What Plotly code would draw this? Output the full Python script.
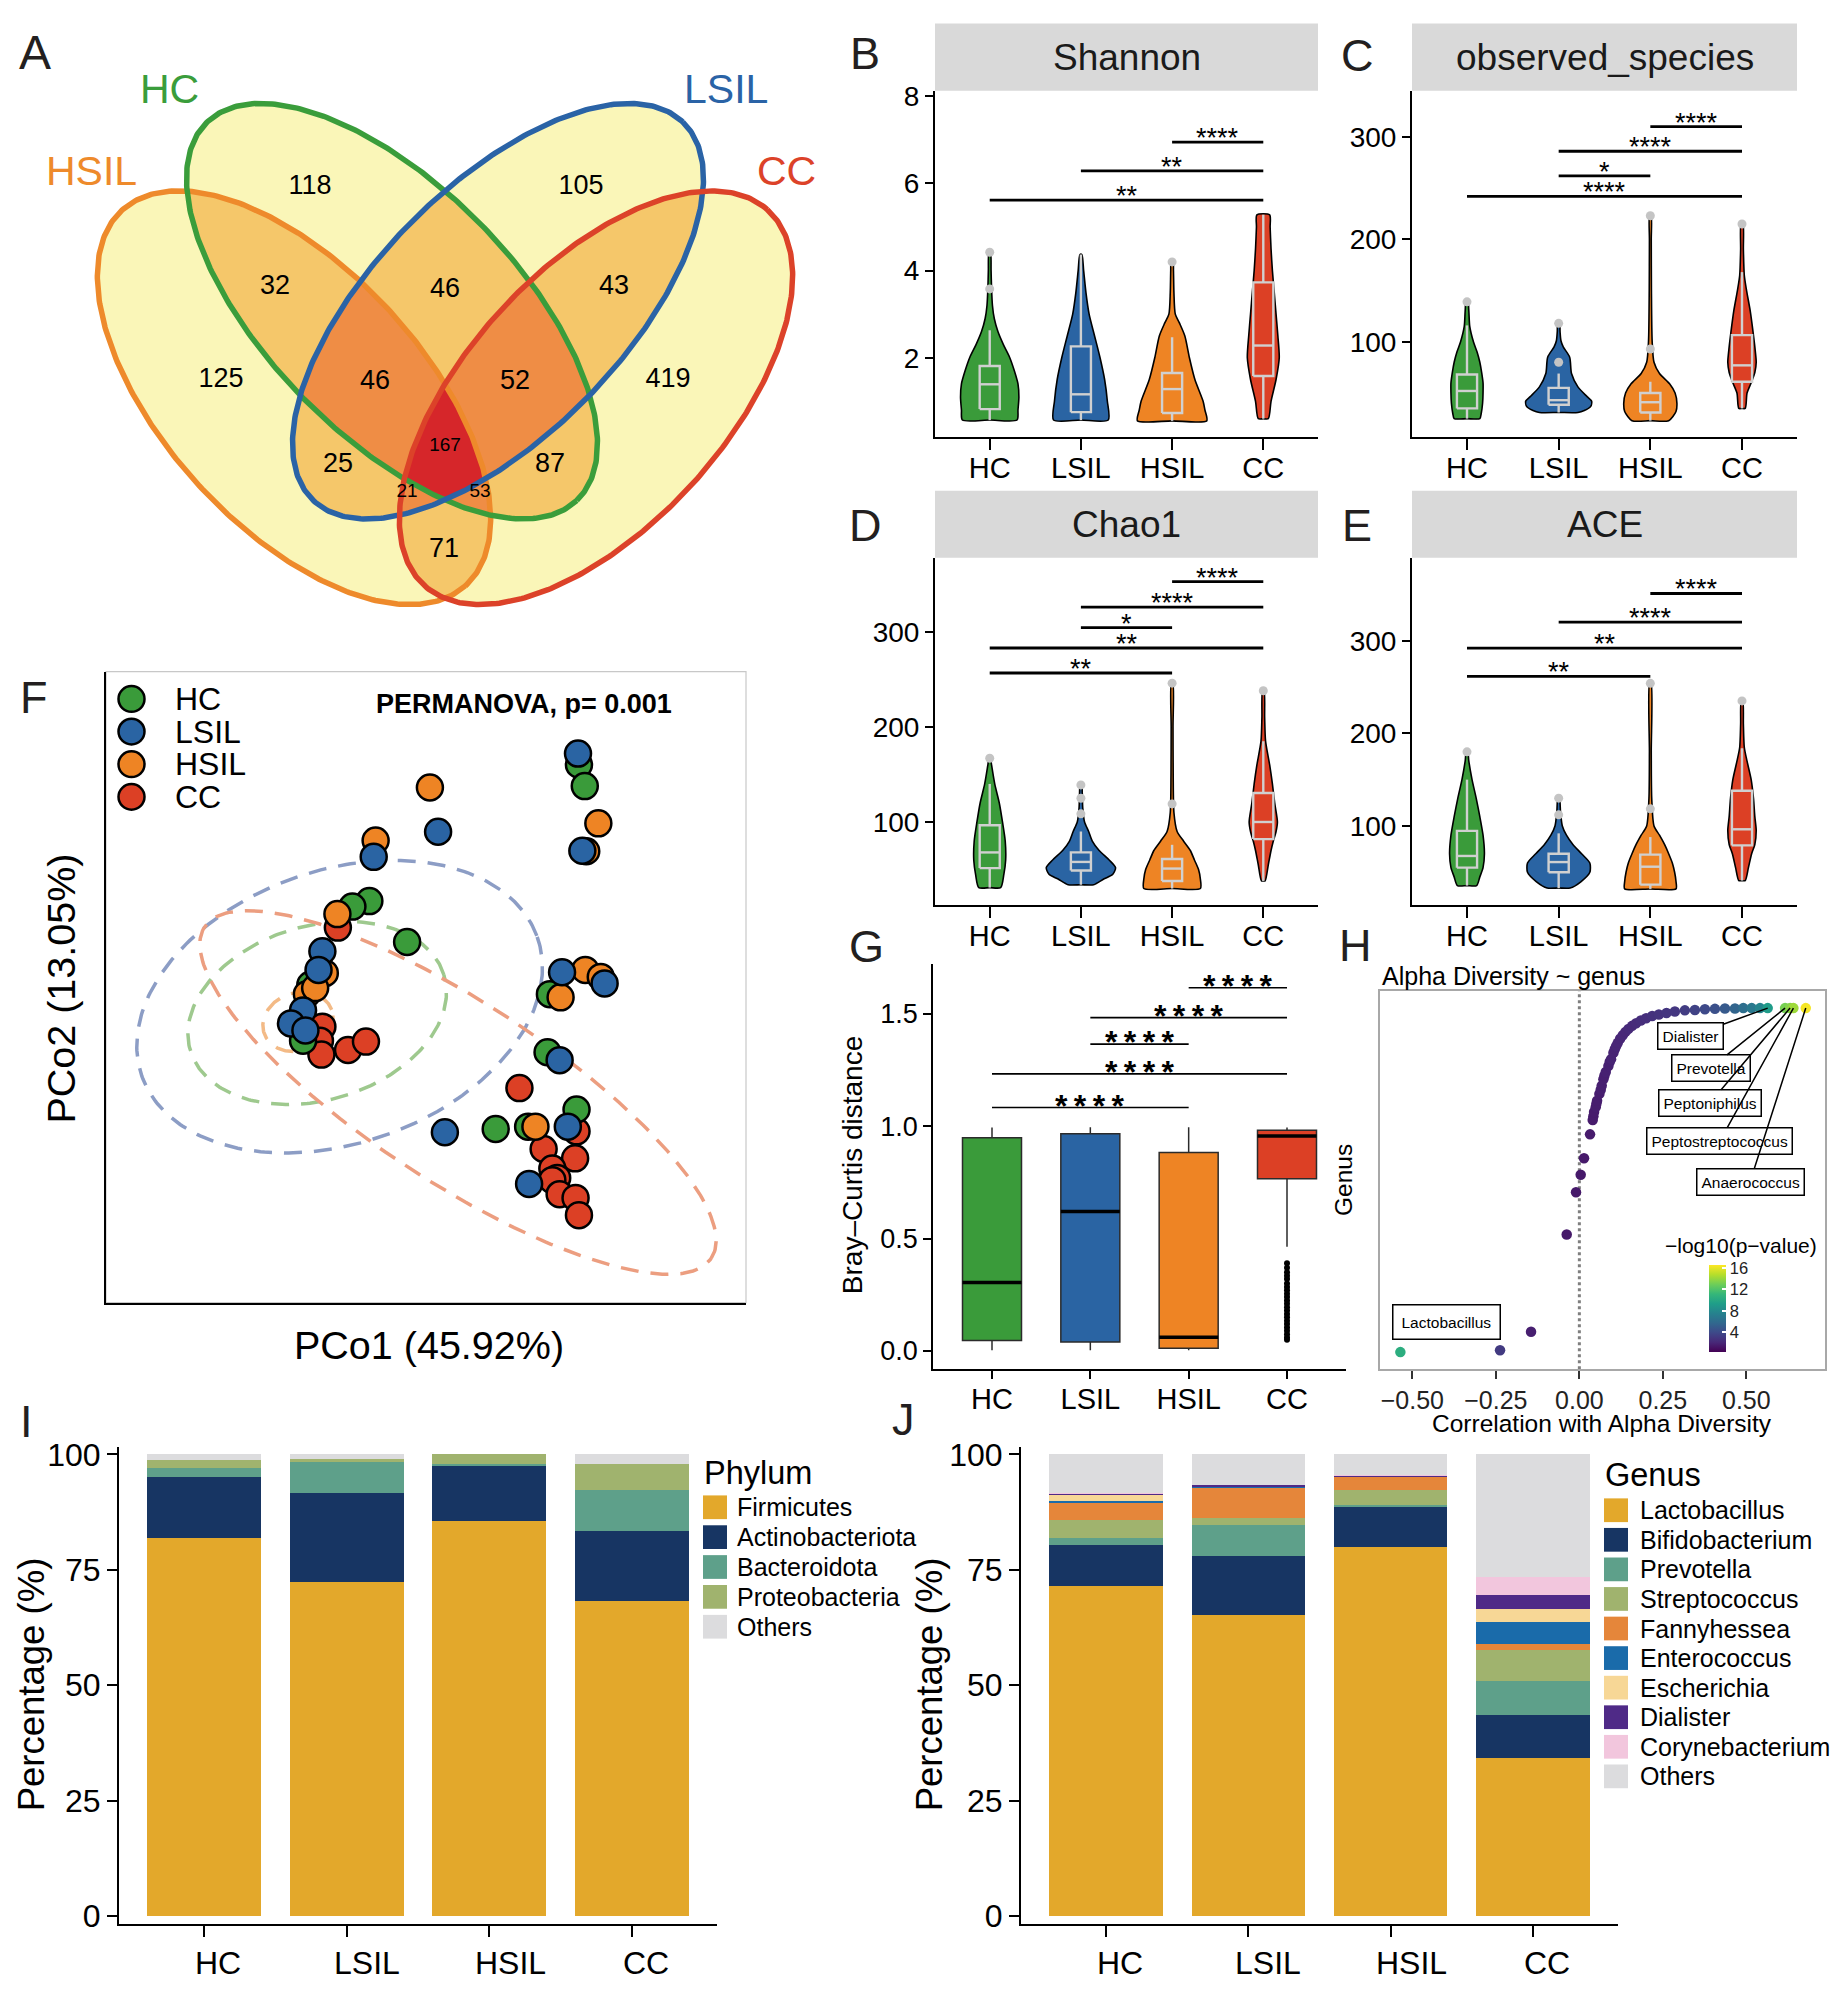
import numpy as np
import plotly.graph_objects as go

# page geometry (browser body keeps its default 8px margin)
PAGE_W, PAGE_H = 1838, 1996
OX, OY = 8, 8
FW, FH = PAGE_W - 2 * OX, PAGE_H - 2 * OY
FONT = "Liberation Sans, Arial, Helvetica, sans-serif"

groups = ["HC", "LSIL", "HSIL", "CC"]
group_colors = ["#3A9B3A", "#2A64A3", "#EE8424", "#DC4025"]

# ---------------- A: Venn ----------------
venn_sets = ["HSIL", "HC", "LSIL", "CC"]
venn_counts = [118, 105, 32, 46, 43, 125, 46, 52, 419, 167, 25, 87, 21, 53, 71]
venn_small = [0, 0, 0, 0, 0, 0, 0, 0, 0, 1, 0, 0, 1, 1, 0]
venn_count_x = [310, 581, 275, 445, 614, 221, 375, 515, 668, 445, 338, 550, 407, 480, 444]
venn_count_y = [178, 178, 279, 282, 279, 373, 375, 375, 373, 440, 459, 459, 487, 487, 545]
venn_ellipses = [(294, 391, 256, 130, 48), (392, 303.5, 266, 125, 46),
                 (498, 303.5, 266, 125, -46), (596, 391, 256, 130, -48)]
venn_line_colors = ["#EE8A2B", "#3A9D3B", "#2A63A6", "#DC4229"]
venn_label_pos = [(91.5, 162), (169.5, 79), (726, 79), (786.6, 162)]
venn_fill = ["#FAF6B8", "#F5C76A", "#EF8D45", "#D6262A"]

# ---------------- B-E: violins ----------------
shannon_levels = [
    [0.57, 0.8, 1.1, 1.4, 1.7, 2.0, 2.3, 2.6, 2.9, 3.2, 3.6, 4.0, 4.42],
    [0.57, 1.0, 1.5, 2.0, 2.5, 3.0, 3.5, 4.0, 4.37],
    [0.55, 0.8, 1.0, 1.5, 2.0, 2.5, 2.8, 3.0, 3.5, 4.0, 4.22],
    [0.6, 1.0, 1.5, 2.0, 2.5, 3.0, 3.5, 4.0, 4.5, 5.0, 5.28]]
shannon_width = [
    [0.30, 0.31, 0.32, 0.31, 0.27, 0.22, 0.15, 0.09, 0.05, 0.03, 0.02, 0.015, 0.008],
    [0.30, 0.29, 0.26, 0.21, 0.15, 0.09, 0.055, 0.03, 0.01],
    [0.38, 0.36, 0.34, 0.25, 0.19, 0.14, 0.08, 0.035, 0.02, 0.015, 0.01],
    [0.055, 0.085, 0.14, 0.175, 0.16, 0.14, 0.12, 0.10, 0.085, 0.075, 0.07]]
shannon_box = [[0.57, 0.82, 1.39, 1.81, 2.63], [0.57, 0.75, 1.16, 2.26, 4.37],
               [0.55, 0.73, 1.28, 1.65, 2.47], [0.6, 1.58, 2.28, 3.73, 5.28]]
shannon_out = [[3.58, 4.42], [], [4.2], []]
shannon_sig = [(3, 4, 6.95, "****"), (2, 4, 6.29, "**"), (1, 4, 5.62, "**")]

obs_levels = [
    [25, 30, 40, 50, 60, 70, 80, 90, 100, 115, 130, 139],
    [31, 33, 37, 42, 46.5, 56, 69, 85, 95, 101, 110, 118],
    [23, 32, 40, 50, 59, 69, 80, 100, 150, 200, 223],
    [35, 50, 60, 70, 80, 95, 110, 130, 150, 165, 190, 215]]
obs_width = [
    [0.14, 0.155, 0.17, 0.175, 0.175, 0.16, 0.14, 0.11, 0.07, 0.03, 0.02, 0.01],
    [0.21, 0.28, 0.35, 0.36, 0.31, 0.21, 0.14, 0.12, 0.05, 0.025, 0.015, 0.01],
    [0.20, 0.28, 0.29, 0.27, 0.21, 0.10, 0.04, 0.02, 0.012, 0.01, 0.008],
    [0.035, 0.055, 0.10, 0.14, 0.155, 0.14, 0.12, 0.09, 0.05, 0.025, 0.015, 0.01]]
obs_box = [[25, 35, 52, 68, 116], [31, 38.5, 43, 55, 69], [23, 31, 41, 50, 61], [35, 61, 77, 106.5, 168]]
obs_out = [[139], [80, 118], [93, 223], [215]]
obs_sig = [(3, 4, 310, "****"), (2, 4, 286, "****"), (2, 3, 262, "*"), (1, 4, 242, "****")]

chao_levels = [
    [31, 45, 60, 80, 100, 120, 140, 160, 167],
    [34, 40, 45, 52, 60, 70, 80, 90, 100, 115, 130, 139],
    [30, 40, 50, 60, 70, 80, 90, 110, 150, 200, 246],
    [38, 55, 70, 80, 90, 100, 120, 140, 160, 185, 210, 238]]
chao_width = [
    [0.12, 0.155, 0.175, 0.17, 0.14, 0.105, 0.055, 0.02, 0.008],
    [0.14, 0.25, 0.35, 0.38, 0.31, 0.2, 0.125, 0.085, 0.04, 0.02, 0.015, 0.008],
    [0.31, 0.31, 0.29, 0.245, 0.2, 0.125, 0.055, 0.02, 0.012, 0.01, 0.008],
    [0.02, 0.055, 0.085, 0.11, 0.14, 0.155, 0.125, 0.10, 0.07, 0.025, 0.015, 0.008]]
chao_box = [[31, 51.5, 68, 96.5, 140], [34, 49, 58, 68, 90], [30, 38, 51, 61, 76], [38, 82, 100, 130.5, 185]]
chao_out = [[167], [108.6, 125, 139], [119, 246], [238]]
chao_sig = [(3, 4, 352.7, "****"), (2, 4, 326, "****"), (2, 3, 304.5, "*"),
            (1, 4, 283, "**"), (1, 3, 256.7, "**")]

ace_levels = [
    [35.6, 45, 55, 70, 90, 110, 130, 150, 170, 180],
    [33, 40, 50, 60, 70, 80, 90, 100, 115, 130],
    [32, 40, 50, 60, 70, 80, 90, 100, 130, 180, 254],
    [41, 55, 70, 80, 95, 110, 130, 150, 170, 185, 210, 235]]
ace_width = [
    [0.105, 0.14, 0.175, 0.19, 0.175, 0.14, 0.10, 0.055, 0.02, 0.008],
    [0.125, 0.245, 0.34, 0.34, 0.25, 0.155, 0.085, 0.04, 0.02, 0.008],
    [0.28, 0.28, 0.265, 0.24, 0.2, 0.155, 0.1, 0.04, 0.015, 0.01, 0.008],
    [0.035, 0.07, 0.105, 0.14, 0.155, 0.14, 0.125, 0.10, 0.055, 0.025, 0.015, 0.008]]
ace_box = [[35.6, 55, 67.6, 94.7, 150], [33, 50, 61, 70, 92], [32, 36.6, 56, 69, 88], [41, 79, 96.4, 138, 184]]
ace_out = [[180], [112, 130], [118.5, 254], [235]]
ace_sig = [(3, 4, 351, "****"), (2, 4, 320, "****"), (1, 4, 292, "**"), (1, 3, 261.6, "**")]

# ---------------- F: PCoA ----------------
pcoa_hc_x = [73.90, 74.81, 41.15, 38.50, 47.05, 31.92, 30.79, 69.36, 68.99, 60.89, 73.52, 65.96]
pcoa_hc_y = [85.25, 81.86, 63.64, 62.76, 57.15, 50.37, 41.52, 48.89, 39.68, 27.51, 30.60, 27.88]
pcoa_lsil_x = [73.75, 74.43, 51.89, 41.83, 33.81, 33.21, 30.79, 28.90, 31.16, 71.26, 77.91, 70.88, 52.95, 72.16, 66.11]
pcoa_lsil_y = [87.02, 71.61, 74.63, 70.65, 55.68, 52.73, 46.31, 44.25, 43.14, 52.36, 50.59, 38.42, 26.99, 27.88, 18.81]
pcoa_hsil_x = [50.61, 76.93, 75.04, 42.13, 36.16, 34.19, 31.39, 32.68, 74.89, 77.31, 71.03, 67.10]
pcoa_hsil_y = [81.64, 75.96, 71.53, 73.23, 61.58, 52.21, 48.89, 49.85, 52.73, 51.62, 48.38, 27.88]
pcoa_cc_x = [36.23, 33.81, 33.43, 33.66, 37.82, 40.62, 64.60, 73.52, 68.38, 73.30, 69.74, 70.50, 69.74, 70.88, 73.37, 73.90]
pcoa_cc_y = [59.44, 43.73, 41.52, 39.31, 40.04, 41.37, 34.00, 27.14, 24.34, 22.86, 21.24, 19.76, 19.40, 17.18, 16.59, 13.86]
pcoa_ellipses = [(33.0, 45.9, 20.7, 13.8, 17), (36.5, 46.9, 32.8, 21.6, 20),
                 (30.0, 44.5, 5.6, 4.6, 20), (55.0, 33.3, 47.5, 14.2, -33.6)]
pcoa_ellipse_colors = ["#9EC98E", "#8C9DC5", "#F3BA86", "#EC9E80"]

# ---------------- G: Bray-Curtis ----------------
bc_box = [[0.004, 0.047, 0.305, 0.949, 0.994], [0.004, 0.040, 0.621, 0.966, 0.995],
          [0.004, 0.012, 0.061, 0.883, 0.995], [0.464, 0.766, 0.956, 0.982, 0.994]]
bc_cc_outliers = [0.39, 0.37, 0.35, 0.335, 0.32, 0.30, 0.285, 0.27, 0.255, 0.24, 0.225, 0.21,
                  0.195, 0.18, 0.165, 0.15, 0.135, 0.12, 0.105, 0.09, 0.075, 0.06, 0.05]
bc_sig = [(3, 4, 1.616), (2, 4, 1.483), (2, 3, 1.365), (1, 4, 1.233), (1, 3, 1.083)]

# ---------------- H: correlation ----------------
h_corr = [-0.536, -0.2375, -0.1447, -0.0379, -0.010, 0.004, 0.014, 0.032,
          0.040, 0.042, 0.044, 0.049, 0.051, 0.053, 0.060, 0.064, 0.067, 0.072, 0.075, 0.079,
          0.087, 0.091, 0.095, 0.102, 0.106, 0.110, 0.115, 0.122, 0.130, 0.138, 0.147,
          0.158, 0.170, 0.184, 0.200, 0.218, 0.238, 0.261, 0.286, 0.316, 0.346, 0.376, 0.406,
          0.436, 0.466, 0.491, 0.516, 0.541, 0.564, 0.616, 0.631, 0.641, 0.678]
h_rank = [4.5, 5.0, 9.9, 35.6, 46.8, 51.4, 55.8, 62.1,
          65.9, 66.9, 68.0, 69.3, 70.2, 71.0, 72.8, 73.9, 75.0, 76.7, 77.6, 78.6,
          80.2, 81.3, 82.0, 83.7, 84.6, 85.4, 86.3, 87.4, 88.3, 89.2, 90.0,
          90.8, 91.5, 92.2, 92.8, 93.4, 93.8, 94.2, 94.6, 94.9, 95.0, 95.2, 95.3,
          95.4, 95.4, 95.5, 95.5, 95.5, 95.5, 95.5, 95.5, 95.5, 95.5]
h_logp = [10.5, 3.2, 1.8, 1.5, 1.5, 1.5, 1.5, 1.6,
          1.6, 1.6, 1.6, 1.7, 1.7, 1.7, 1.7, 1.8, 1.8, 1.8, 1.8, 1.9,
          1.9, 1.9, 2.0, 2.0, 2.0, 2.1, 2.1, 2.1, 2.2, 2.2, 2.3,
          2.3, 2.4, 2.5, 2.6, 2.7, 2.8, 2.9, 3.0, 3.3, 3.6, 4.0, 4.4,
          5.0, 5.6, 6.3, 7.0, 7.8, 9.3, 13.2, 13.6, 14.2, 16.4]
h_label_names = ["Dialister", "Prevotella", "Peptoniphilus", "Peptostreptococcus", "Anaerococcus", "Lactobacillus"]
h_label_point = [48, 49, 50, 51, 52, 0]
h_label_x = [0.333, 0.393, 0.391, 0.421, 0.511, -0.397]
h_label_y = [88.1, 79.6, 70.4, 60.4, 49.5, 12.5]

# ---------------- I / J: composition ----------------
phylum_names = ["Firmicutes", "Actinobacteriota", "Bacteroidota", "Proteobacteria", "Others"]
phylum_values = [[81.9, 72.4, 85.5, 68.3], [13.1, 19.3, 12.0, 15.0], [1.95, 6.7, 0.4, 9.0],
                 [1.8, 0.6, 2.1, 5.7], [1.25, 1.0, 0.0, 2.0]]
phylum_colors = ["#E3A82B", "#173563", "#5EA08A", "#A0B36E", "#DCDCDE"]
genus_names = ["Lactobacillus", "Bifidobacterium", "Prevotella", "Streptococcus", "Fannyhessea",
               "Enterococcus", "Escherichia", "Dialister", "Corynebacterium", "Others"]
genus_values = [[71.5, 65.3, 80.0, 34.3], [8.8, 12.6, 8.7, 9.2], [1.6, 6.8, 0.3, 7.5],
                [3.9, 1.5, 3.2, 6.7], [3.7, 6.6, 2.9, 1.2], [0.5, 0.1, 0.0, 4.9],
                [1.2, 0.1, 0.0, 2.7], [0.3, 0.4, 0.2, 3.1], [0.1, 0.0, 0.2, 3.8],
                [8.4, 6.6, 4.5, 26.6]]
genus_colors = ["#E3A82B", "#173563", "#5EA08A", "#A0B36E", "#E5863A", "#1A6BAA",
                "#F7D796", "#4F2A87", "#F2C6DD", "#DCDCDE"]

# =====================================================================
fig = go.Figure()
layout_axes = {}
annotations = []
shapes = []


def fx(px):
    return (px - OX) / FW


def fy(py):
    return 1 - (py - OY) / FH


def names(i):
    if i == 1:
        return "xaxis", "yaxis", "x", "y"
    return f"xaxis{i}", f"yaxis{i}", f"x{i}", f"y{i}"


def set_axes(i, xpx, ypx, xrange, yrange, xopts=None, yopts=None):
    xa, ya, xr, yr = names(i)
    hidden = dict(showgrid=False, zeroline=False, showticklabels=False, ticks="",
                  showline=False, fixedrange=True)
    xd = dict(hidden, domain=[max(0, fx(xpx[0])), min(1, fx(xpx[1]))], range=xrange, anchor=yr)
    yd = dict(hidden, domain=[max(0, fy(ypx[1])), min(1, fy(ypx[0]))], range=yrange, anchor=xr)
    if xopts:
        xd.update(xopts)
    if yopts:
        yd.update(yopts)
    layout_axes[xa] = xd
    layout_axes[ya] = yd


def classic(tickvals, ticktext, fs, ticklen=10, lw=2, standoff=0, labels=True):
    return dict(showline=True, linecolor="black", linewidth=lw, ticks="outside",
                ticklen=ticklen, tickwidth=lw, tickcolor="black", showticklabels=labels,
                tickvals=tickvals, ticktext=ticktext, ticklabelstandoff=standoff,
                tickfont=dict(size=fs, color="black", family=FONT))


def ptext(text, px, py, size, xanchor="center", yanchor="middle", color="black", angle=0, **kw):
    annotations.append(dict(text=text, x=fx(px), y=fy(py), xref="paper", yref="paper",
                            xanchor=xanchor, yanchor=yanchor, showarrow=False, textangle=angle,
                            font=dict(size=size, color=color, family=FONT), **kw))


def prect(x0, y0, x1, y1, fill, line_color=None, lw=0, layer="above"):
    shapes.append(dict(type="rect", xref="paper", yref="paper", x0=fx(x0), x1=fx(x1),
                       y0=fy(y1), y1=fy(y0), fillcolor=fill, layer=layer,
                       line=dict(color=line_color or fill, width=lw)))


# ---------------- A: Venn ----------------
set_axes(1, (OX, 840), (OY, 620), [OX, 840], [620, OY])
gx = np.arange(60, 802, 2.0)
gy = np.arange(84, 616, 2.0)
GX, GY = np.meshgrid(gx, gy)
count = np.zeros_like(GX)
for (cx, cy, a, b, th) in venn_ellipses:
    t = np.radians(th)
    dx, dy = GX - cx, GY - cy
    u = dx * np.cos(t) + dy * np.sin(t)
    v = -dx * np.sin(t) + dy * np.cos(t)
    count += ((u / a) ** 2 + (v / b) ** 2 <= 1).astype(float)
count[count == 0] = np.nan
cs = []
for k, c in enumerate(venn_fill):
    cs += [[k / 4, c], [(k + 1) / 4, c]]
fig.add_trace(go.Heatmap(x=gx, y=gy, z=count, zmin=0.5, zmax=4.5, colorscale=cs,
                         showscale=False, hoverinfo="skip", zsmooth=False, xaxis="x", yaxis="y"))
s = np.linspace(0, 2 * np.pi, 400)
for (cx, cy, a, b, th), col in zip(venn_ellipses, venn_line_colors):
    t = np.radians(th)
    ex = cx + a * np.cos(s) * np.cos(t) - b * np.sin(s) * np.sin(t)
    ey = cy + a * np.cos(s) * np.sin(t) + b * np.sin(s) * np.cos(t)
    fig.add_trace(go.Scatter(x=ex, y=ey, mode="lines", line=dict(color=col, width=5.5),
                             hoverinfo="skip", showlegend=False, xaxis="x", yaxis="y"))
fig.add_trace(go.Scatter(x=venn_count_x, y=venn_count_y, mode="text",
                         text=[str(c) for c in venn_counts],
                         textfont=dict(size=[19 if sm else 27 for sm in venn_small],
                                       color="black", family=FONT),
                         hoverinfo="skip", showlegend=False, xaxis="x", yaxis="y"))
for name, (lx, ly), col in zip(venn_sets, venn_label_pos, venn_line_colors):
    ptext(name, lx, ly, 41, color=col)

# ---------------- B-E violins ----------------
violin_panels = [
    (2, (935, 1318), (80.5, 430.7), [0.18, 8.13], [2, 4, 6, 8], shannon_levels, shannon_width,
     shannon_box, shannon_out, shannon_sig, "Shannon", (12.5, 80.5)),
    (3, (1412, 1797), (80.5, 430.7), [7.06, 345.1], [100, 200, 300], obs_levels, obs_width,
     obs_box, obs_out, obs_sig, "observed_species", (12.5, 80.5)),
    (4, (935, 1318), (552.7, 904), [12.65, 378], [100, 200, 300], chao_levels, chao_width,
     chao_box, chao_out, chao_sig, "Chao1", (485, 552.7)),
    (5, (1412, 1797), (552.7, 904), [14.6, 389.7], [100, 200, 300], ace_levels, ace_width,
     ace_box, ace_out, ace_sig, "ACE", (485, 552.7)),
]
BOXC = "#D0D0D0"
for (i, xpx, ypx, yr, yt, levels, widths, boxes, outs, sig, title, strip) in violin_panels:
    _, _, xr, yrr = names(i)
    set_axes(i, xpx, ypx, [0.4, 4.6], yr,
             classic([1, 2, 3, 4], groups, 29, ticklen=11, standoff=-7),
             classic(yt, [str(v) for v in yt], 28, ticklen=8))
    for g in range(4):
        pos = g + 1
        ys, ws = levels[g], widths[g]
        px_ = [pos] + [pos + w for w in ws] + [pos - w for w in ws[::-1]] + [pos]
        py_ = [ys[0]] + ys + ys[::-1] + [ys[0]]
        fig.add_trace(go.Scatter(x=px_, y=py_, mode="lines", fill="toself",
                                 fillcolor=group_colors[g],
                                 line=dict(color="black", width=1.6, shape="spline", smoothing=0.7),
                                 hoverinfo="skip", showlegend=False, xaxis=xr, yaxis=yrr))
        lf, q1, med, q3, uf = boxes[g]
        hw = 0.11
        bxs = [pos - hw, pos + hw, pos + hw, pos - hw, pos - hw, None,
               pos - hw, pos + hw, None, pos, pos, None, pos, pos]
        bys = [q1, q1, q3, q3, q1, None, med, med, None, q3, uf, None, lf, q1]
        fig.add_trace(go.Scatter(x=bxs, y=bys, mode="lines", line=dict(color=BOXC, width=2.4),
                                 hoverinfo="skip", showlegend=False, xaxis=xr, yaxis=yrr))
        if outs[g]:
            fig.add_trace(go.Scatter(x=[pos] * len(outs[g]), y=outs[g], mode="markers",
                                     marker=dict(color="#C4C4C4", size=9), hoverinfo="skip",
                                     showlegend=False, xaxis=xr, yaxis=yrr))
    bx, by = [], []
    for (a, b, h, lab) in sig:
        bx += [a, b, None]
        by += [h, h, None]
        annotations.append(dict(text=lab, x=(a + b) / 2, y=h, xref=xr, yref=yrr,
                                showarrow=False, yanchor="middle", yshift=4,
                                font=dict(size=27, color="black", family=FONT)))
    fig.add_trace(go.Scatter(x=bx, y=by, mode="lines", line=dict(color="black", width=2.8),
                             hoverinfo="skip", showlegend=False, xaxis=xr, yaxis=yrr))
    prect(xpx[0], strip[0], xpx[1], strip[1], "#D9D9D9", layer="below")
    ptext(title, (xpx[0] + xpx[1]) / 2, (strip[0] + strip[1]) / 2, 37, color="#1A1A1A")

# ---------------- F: PCoA ----------------
set_axes(6, (106, 746), (668, 1306), [0, 100], [0, 100],
         dict(showline=True, linecolor="black", linewidth=2),
         dict(showline=True, linecolor="black", linewidth=2))
prect(106, 668, 746, 1306, "rgba(0,0,0,0)", "#C8C8C8", 1.2, layer="below")
s = np.linspace(0, 2 * np.pi, 300)
for (cx, cy, a, b, th), col in zip(pcoa_ellipses, pcoa_ellipse_colors):
    t = np.radians(th)
    ex = cx + a * np.cos(s) * np.cos(t) - b * np.sin(s) * np.sin(t)
    ey = cy + a * np.cos(s) * np.sin(t) + b * np.sin(s) * np.cos(t)
    fig.add_trace(go.Scatter(x=ex, y=ey, mode="lines",
                             line=dict(color=col, width=3.5, dash="18px,12px"),
                             hoverinfo="skip", showlegend=False, xaxis="x6", yaxis="y6"))
for xs, ys, col in [(pcoa_cc_x, pcoa_cc_y, group_colors[3]), (pcoa_hc_x, pcoa_hc_y, group_colors[0]),
                    (pcoa_hsil_x, pcoa_hsil_y, group_colors[2]), (pcoa_lsil_x, pcoa_lsil_y, group_colors[1])]:
    fig.add_trace(go.Scatter(x=xs, y=ys, mode="markers",
                             marker=dict(color=col, size=26, line=dict(color="black", width=2.5)),
                             hoverinfo="skip", showlegend=False, xaxis="x6", yaxis="y6"))
for k, (g, col) in enumerate(zip(groups, group_colors)):
    cy = 695.6 + 33 * k
    shapes.append(dict(type="circle", xref="paper", yref="paper",
                       x0=fx(131.5 - 13), x1=fx(131.5 + 13),
                       y0=fy(cy + 13), y1=fy(cy - 13),
                       fillcolor=col, line=dict(color="black", width=2.5)))
    ptext(g, 173, cy, 32, xanchor="left")
ptext("<b>PERMANOVA, p= 0.001</b>", 523.5, 700.3, 27)
ptext("PCo1 (45.92%)", 428.6, 1348.8, 39.5)
ptext("PCo2 (13.05%)", 61, 988.5, 39.5, angle=-90)

# ---------------- G: Bray-Curtis boxplot ----------------
set_axes(7, (933, 1346), (963.3, 1373.3), [0.4, 4.6], [-0.0805, 1.723],
         classic([1, 2, 3, 4], groups, 29, ticklen=8, lw=1.8, standoff=-5),
         classic([0, 0.5, 1.0, 1.5], ["0.0", "0.5", "1.0", "1.5"], 27, ticklen=8, lw=1.8))
for g in range(4):
    pos = g + 1
    lf, q1, med, q3, uf = bc_box[g]
    fig.add_trace(go.Box(x=[pos], q1=[q1], median=[med], q3=[q3], lowerfence=[lf],
                         upperfence=[uf], orientation="v", width=0.6,
                         fillcolor=group_colors[g], line=dict(color="#2B2B2B", width=1.5),
                         whiskerwidth=0, boxpoints=False, hoverinfo="skip",
                         showlegend=False, xaxis="x7", yaxis="y7"))
    fig.add_trace(go.Scatter(x=[pos - 0.3, pos + 0.3], y=[med, med], mode="lines",
                             line=dict(color="black", width=3.5), hoverinfo="skip",
                             showlegend=False, xaxis="x7", yaxis="y7"))
fig.add_trace(go.Scatter(x=[4] * len(bc_cc_outliers), y=bc_cc_outliers, mode="markers",
                         marker=dict(color="black", size=6), hoverinfo="skip",
                         showlegend=False, xaxis="x7", yaxis="y7"))
bx, by = [], []
for (a, b, h) in bc_sig:
    bx += [a, b, None]
    by += [h, h, None]
    annotations.append(dict(text="<b>*\u2009*\u2009*\u2009*</b>", x=(a + b) / 2, y=h, xref="x7", yref="y7",
                            showarrow=False, yanchor="middle", yshift=2,
                            font=dict(size=32, color="black", family=FONT)))
fig.add_trace(go.Scatter(x=bx, y=by, mode="lines", line=dict(color="black", width=1.6),
                         hoverinfo="skip", showlegend=False, xaxis="x7", yaxis="y7"))
ptext("Bray\u2013Curtis distance", 853.3, 1166.7, 28, angle=-90)

# ---------------- H: correlation scatter ----------------
set_axes(8, (1380, 1825.3), (991, 1373.3), [-0.597, 0.7365], [0, 100],
         dict(showline=True, linecolor="#A8A8A8", linewidth=1.5, mirror=True, ticks="outside",
              ticklen=8, tickwidth=1.5, tickcolor="#333333", showticklabels=True,
              tickvals=[-0.5, -0.25, 0, 0.25, 0.5],
              ticktext=["\u22120.50", "\u22120.25", "0.00", "0.25", "0.50"],
              tickfont=dict(size=25, color="#222222", family=FONT)),
         dict(showline=True, linecolor="#A8A8A8", linewidth=1.5, mirror=True))
shapes.append(dict(type="line", xref="x8", yref="y8 domain", x0=0, x1=0, y0=0, y1=1,
                   line=dict(color="#7F7F7F", width=3, dash="dot"), layer="below"))
fig.add_trace(go.Scatter(
    x=h_corr, y=h_rank, mode="markers",
    marker=dict(color=h_logp, colorscale="Viridis", cmin=0.4, cmax=16.6, size=10.5,
                line=dict(width=0),
                colorbar=dict(x=fx(1709.3), xanchor="left", xpad=0, y=fy(1311.7), yanchor="middle",
                              ypad=0, len=87, lenmode="pixels", thickness=17, thicknessmode="pixels",
                              tickvals=[4, 8, 12, 16], ticks="inside", ticklen=4, tickcolor="white",
                              tickwidth=1.5, outlinewidth=0,
                              tickfont=dict(size=16.5, color="#222222", family=FONT))),
    hoverinfo="skip", showlegend=False, xaxis="x8", yaxis="y8"))
for name, pi, lx, ly in zip(h_label_names, h_label_point, h_label_x, h_label_y):
    d = dict(text=name, x=h_corr[pi], y=h_rank[pi], xref="x8", yref="y8",
             font=dict(size=15.5, color="black", family=FONT), bgcolor="white",
             bordercolor="black", borderwidth=1.5, borderpad=4)
    if name == "Lactobacillus":
        d.update(x=lx, y=ly, showarrow=False, borderpad=8)
    else:
        d.update(showarrow=True, arrowhead=0, arrowwidth=1.5, arrowcolor="black",
                 ax=lx, ay=ly, axref="x8", ayref="y8", standoff=0)
    annotations.append(d)
ptext("Alpha Diversity ~ genus", 1380, 976, 25, xanchor="left")
ptext("Correlation with Alpha Diversity", 1601.5, 1428, 24.5)
ptext("Genus", 1343.3, 1181.7, 24.5, angle=-90)
ptext("\u2212log10(p\u2212value)", 1663.3, 1248.3, 21, xanchor="left")

# ---------------- I / J: stacked bars ----------------
label_shift = [14, 20, 21, 14]
for (i, xpx, vals, cols, labs, ttl, leg) in [
        (9, (119, 717), phylum_values, phylum_colors, phylum_names, "Phylum",
         (702, 1478, 703, 1513, 30.2, 735)),
        (10, (1021, 1618), genus_values, genus_colors, genus_names, "Genus",
         (1603, 1480, 1604, 1516, 29.9, 1638))]:
    _, _, xr, yrr = names(i)
    set_axes(i, xpx, (1452.5, 1934), [0.4, 4.6], [-1.6, 101.5],
             classic([1, 2, 3, 4], groups, 32, ticklen=11, labels=False),
             classic([0, 25, 50, 75, 100], ["0", "25", "50", "75", "100"], 32, ticklen=10))
    for v, c, n in zip(vals, cols, labs):
        fig.add_trace(go.Bar(x=[1, 2, 3, 4], y=v, marker=dict(color=c, line=dict(width=0)),
                             width=0.8, name=n, hoverinfo="skip", showlegend=False,
                             xaxis=xr, yaxis=yrr))
    for k, g in enumerate(groups):
        annotations.append(dict(text=g, x=k + 1, y=fy(1974), xref=xr, yref="paper",
                                xanchor="center", yanchor="middle", xshift=label_shift[k],
                                showarrow=False, font=dict(size=32, color="black", family=FONT)))
    tx, ty, sx, sy0, step, textx = leg
    ptext(ttl, tx, ty, 32.5, xanchor="left")
    for k, (n, c) in enumerate(zip(labs, cols)):
        cy = sy0 + step * k
        prect(sx, cy - 12, sx + 24, cy + 12, c)
        ptext(n, textx, cy, 25, xanchor="left")
ptext("Percentage (%)", 31, 1692, 36.5, angle=-90)
ptext("Percentage (%)", 929, 1692, 36.5, angle=-90)

# ---------------- panel letters ----------------
for lab, (lx, ly), sz in [("A", (35, 41.5), 48), ("B", (865, 43.3), 45), ("C", (1357, 44.6), 45),
                          ("D", (865.6, 519.8), 45), ("E", (1357, 519.8), 45), ("F", (34, 694), 45),
                          ("G", (866.5, 946.3), 45), ("H", (1355, 944.8), 45),
                          ("I", (26.5, 1426.6), 45), ("J", (903, 1424.7), 45)]:
    ptext(lab, lx, ly, sz, color="#231F20")

fig.update_layout(width=FW, height=FH, autosize=False, margin=dict(l=0, r=0, t=0, b=0),
                  paper_bgcolor="white", plot_bgcolor="white", barmode="stack", boxmode="overlay",
                  font=dict(family=FONT, color="black"), showlegend=False,
                  annotations=annotations, shapes=shapes, **layout_axes)
fig.write_html("out.html", config={"displayModeBar": False})
